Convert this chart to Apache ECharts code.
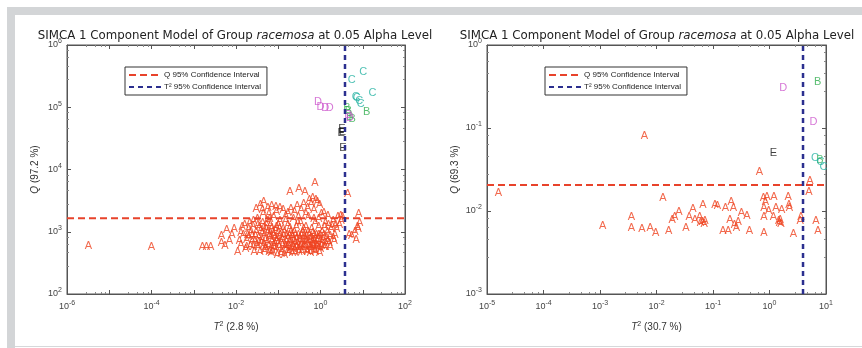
<!DOCTYPE html>
<html>
<head>
<meta charset="utf-8">
<script src="https://cdn.jsdelivr.net/npm/echarts@6/dist/echarts.min.js"></script>
<style>
  html, body { margin: 0; padding: 0; background: #fff; }
  #main { width: 862px; height: 348px; }
</style>
</head>
<body>
<div id="main"></div>
<script>
// left panel: Q (97.2 %) vs T2 (2.8 %)
var leftA = [
  [3.2e-6, 600], [1e-4, 570], [0.0016, 560], [0.002, 580], [0.0025, 570], [0.0045, 660], [0.0055, 590],
  [0.0045, 870], [0.006, 1050], [0.008, 880], [0.009, 1100], [0.007, 720],
  [0.011, 480], [0.013, 620], [0.014, 1200], [0.015, 900], [0.017, 520], [0.018, 750], [0.02, 1100],
  [0.021, 1400], [0.022, 600], [0.024, 850], [0.025, 1250], [0.027, 480], [0.028, 700], [0.03, 1000],
  [0.03, 2300], [0.032, 1600], [0.034, 560], [0.035, 820], [0.036, 1200], [0.038, 2700], [0.04, 650],
  [0.042, 950], [0.044, 1900], [0.045, 3000], [0.047, 500], [0.05, 750], [0.052, 1100], [0.055, 1500],
  [0.057, 2400], [0.06, 600], [0.062, 870], [0.065, 1300], [0.068, 450], [0.07, 2600], [0.072, 700],
  [0.075, 1000], [0.078, 1700], [0.08, 550], [0.085, 820], [0.088, 2500], [0.09, 1200], [0.095, 430],
  [0.1, 650], [0.1, 950], [0.11, 1500], [0.11, 2400], [0.12, 500], [0.125, 760], [0.13, 1100],
  [0.14, 420], [0.15, 600], [0.15, 1800], [0.16, 900], [0.17, 1300], [0.18, 480], [0.19, 700],
  [0.19, 4400], [0.2, 2300], [0.2, 1000], [0.21, 550], [0.22, 820], [0.23, 1600], [0.25, 450],
  [0.26, 650], [0.27, 1200], [0.28, 2600], [0.3, 520], [0.3, 900], [0.31, 4800], [0.33, 700],
  [0.34, 1400], [0.36, 480], [0.38, 1000], [0.4, 2800], [0.4, 600], [0.42, 800], [0.43, 4400],
  [0.45, 1200], [0.48, 500], [0.5, 680], [0.52, 1700], [0.55, 3200], [0.55, 900], [0.58, 450],
  [0.6, 600], [0.62, 1100], [0.65, 3500], [0.68, 750], [0.7, 2200], [0.72, 500], [0.74, 6100],
  [0.75, 1400], [0.78, 3300], [0.8, 880], [0.85, 600], [0.9, 1200], [0.95, 450], [1.0, 700],
  [1.05, 1900], [1.1, 1000], [1.2, 560], [1.3, 1400], [1.4, 800], [1.5, 1800], [1.6, 650],
  [1.8, 1100], [2.0, 1500], [2.2, 900], [2.6, 1700], [3.0, 1800], [3.3, 1700],
  [4.4, 4000], [4.8, 900], [5.5, 850], [6.5, 1000], [7.0, 750], [7.5, 1200], [8.0, 1900],
  [8.5, 1400], [7.8, 1100],
  [0.012, 700], [0.013, 950], [0.016, 1300], [0.018, 560], [0.019, 900], [0.023, 1000], [0.026, 560],
  [0.026, 1500], [0.029, 850], [0.031, 620], [0.033, 1300], [0.037, 480], [0.039, 1050], [0.041, 760],
  [0.043, 1400], [0.046, 620], [0.048, 900], [0.051, 520], [0.053, 1300], [0.056, 680], [0.058, 1000],
  [0.061, 470], [0.063, 1600], [0.066, 780], [0.069, 560], [0.071, 1150], [0.074, 480], [0.077, 880],
  [0.082, 650], [0.086, 1050], [0.092, 520], [0.097, 800], [0.105, 560], [0.108, 1150], [0.115, 700],
  [0.118, 440], [0.135, 850], [0.145, 560], [0.155, 700], [0.165, 480], [0.175, 620], [0.185, 900],
  [0.195, 520], [0.205, 680], [0.215, 460], [0.225, 600], [0.235, 720], [0.245, 520], [0.255, 880],
  [0.265, 560], [0.29, 640], [0.31, 480], [0.32, 780], [0.35, 600], [0.37, 700], [0.39, 520],
  [0.41, 900], [0.44, 560], [0.46, 720], [0.5, 480], [0.53, 600], [0.56, 760], [0.6, 520], [0.64, 680],
  [0.66, 950], [0.7, 580], [0.73, 720], [0.76, 480], [0.82, 620], [0.88, 780], [0.92, 540], [0.98, 900],
  [1.05, 600], [1.15, 760], [1.25, 1200], [1.35, 650], [1.45, 1000], [1.55, 1300], [1.7, 850],
  [1.9, 1250], [2.1, 700], [2.4, 1100], [2.8, 1300], [3.1, 1500],
  [0.09, 2100], [0.13, 2200], [0.17, 2000], [0.24, 2100], [0.35, 2200], [0.5, 2400], [0.6, 2800],
  [0.85, 3000], [0.95, 2700], [1.2, 2000], [0.042, 2200], [0.06, 1900], [0.15, 1500], [0.3, 1700],
  [0.45, 1900], [0.7, 1600], [0.9, 1600],
  [0.035, 680], [0.045, 1150], [0.05, 580], [0.064, 950], [0.079, 620], [0.093, 740], [0.1, 1300],
  [0.112, 900], [0.128, 620], [0.14, 1000], [0.16, 560], [0.17, 780], [0.19, 1150], [0.21, 880],
  [0.24, 1000], [0.27, 760], [0.29, 1400], [0.33, 560], [0.36, 880], [0.4, 1100], [0.43, 650],
  [0.47, 850], [0.51, 1000], [0.57, 560], [0.61, 800], [0.67, 620], [0.71, 880], [0.78, 560],
  [0.84, 720], [0.9, 900], [1.0, 520], [1.1, 680], [1.2, 880], [1.3, 580], [1.5, 720], [1.7, 580],
  [2.0, 800], [2.3, 1300], [0.024, 720], [0.02, 820]
];
var leftB = [[12.3, 85000], [4.2, 98000], [4.6, 88000], [5.0, 70000], [5.6, 64000]];
var leftC = [[10.3, 372000], [5.5, 276000], [17, 170000], [7.2, 140000], [8.2, 125000], [9.0, 112000], [6.8, 145000]];
var leftD = [[0.87, 123000], [1.0, 100000], [1.3, 98000], [1.66, 97000], [4.5, 74000], [5.0, 68000]];
var leftE = [[3.2, 45000], [3.3, 40000], [3.1, 38000], [3.4, 22000]];
var leftQLim = 1650;
var leftT2Lim = 3.8;
var leftXRange = [1e-6, 100];
var leftYRange = [100, 1e6];

// right panel: Q (69.3 %) vs T2 (30.7 %)
var rightA = [
  [1.6e-5, 0.0166], [0.0061, 0.081], [0.00112, 0.0066], [0.0036, 0.0085], [0.0036, 0.0063],
  [0.0055, 0.0061], [0.0077, 0.0063], [0.0097, 0.0054], [0.013, 0.0142], [0.0165, 0.0058],
  [0.019, 0.0078], [0.021, 0.0085], [0.025, 0.0098], [0.033, 0.0063], [0.038, 0.0085],
  [0.044, 0.0105], [0.048, 0.0078], [0.058, 0.0085], [0.066, 0.0118], [0.06, 0.0071],
  [0.065, 0.0073], [0.07, 0.0069], [0.072, 0.0076], [0.108, 0.0118], [0.12, 0.0115], [0.15, 0.0058],
  [0.166, 0.011], [0.186, 0.0058], [0.2, 0.0078], [0.21, 0.0129], [0.23, 0.011], [0.24, 0.0068],
  [0.26, 0.0062], [0.28, 0.0074], [0.32, 0.0094], [0.4, 0.0087], [0.44, 0.0058], [0.66, 0.0298],
  [0.78, 0.0142], [0.8, 0.011], [0.8, 0.0085], [0.8, 0.0054], [0.85, 0.0129], [0.9, 0.0146],
  [0.97, 0.01], [1.17, 0.0085], [1.2, 0.0146], [1.3, 0.011], [1.45, 0.0076], [1.5, 0.0071],
  [1.55, 0.0078], [1.6, 0.0069], [1.65, 0.0103], [2.15, 0.0146], [2.2, 0.0118], [2.25, 0.011],
  [2.65, 0.0053], [3.6, 0.0085], [3.5, 0.0075], [5.2, 0.0232], [5.0, 0.017], [6.6, 0.0075],
  [7.2, 0.0058]
];
var rightB = [[7.1, 0.36], [7.8, 0.041]];
var rightC = [[6.4, 0.043], [8.0, 0.039], [9.0, 0.034]];
var rightD = [[1.75, 0.30], [6.0, 0.119]];
var rightE = [[1.17, 0.0496]];
var rightQLim = 0.0206;
var rightT2Lim = 3.92;
var rightXRange = [1e-5, 10];
var rightYRange = [1e-3, 1];

var titleText = 'SIMCA 1 Component Model of Group {i|racemosa} at 0.05 Alpha Level';
var qName = 'Q 95% Confidence Interval';
var tName = 'T\u00b2 95% Confidence Interval';

var colA = '#ef4420', colB = '#2fae4e', colC = '#26b3a2', colD = '#cc55cc', colE = '#111111';
var colQ = '#e8432b', colT = '#2b2f8f';

var chart = echarts.init(document.getElementById('main'));

function powLabel(everyOther) {
  return function (v) {
    var e = Math.round(Math.log10(v));
    if (everyOther && e % 2 !== 0) return '';
    return '10{sup|' + e + '}';
  };
}

var labelRich = {
  sup: { fontSize: 7, verticalAlign: 'top', padding: [0, 0, 7, 0], color: '#444', fontFamily: 'Liberation Sans' }
};

function bottomAxis(grid, range, everyOther, name) {
  return {
    type: 'log', logBase: 10, gridIndex: grid, min: range[0], max: range[1],
    position: 'bottom',
    name: name, nameLocation: 'middle', nameGap: 27,
    nameTextStyle: { color: '#333', fontSize: 10, fontFamily: 'Liberation Sans',
      rich: { i: { fontStyle: 'italic', fontSize: 10, color: '#333' }, s: { fontSize: 7, verticalAlign: 'top', padding: [0, 0, 6, 0], color: '#333' } } },
    axisLine: { show: true, lineStyle: { color: '#555', width: 1 } },
    axisTick: { show: true, inside: true, length: 4, lineStyle: { color: '#555' } },
    minorTick: { show: true, splitNumber: 5, length: 2, lineStyle: { color: '#888' } },
    splitLine: { show: false },
    axisLabel: { formatter: powLabel(everyOther), color: '#444', fontSize: 9, fontFamily: 'Liberation Sans', margin: 6, rich: labelRich }
  };
}
function topAxis(grid, range) {
  return {
    type: 'log', logBase: 10, gridIndex: grid, min: range[0], max: range[1], position: 'top',
    axisLine: { show: true, lineStyle: { color: '#555' } },
    axisTick: { show: true, inside: true, length: 4, lineStyle: { color: '#555' } },
    minorTick: { show: true, splitNumber: 5, length: 2, lineStyle: { color: '#888' } },
    splitLine: { show: false }, axisLabel: { show: false }
  };
}
function leftAxis(grid, range, name) {
  return {
    type: 'log', logBase: 10, gridIndex: grid, min: range[0], max: range[1], position: 'left',
    name: name, nameLocation: 'middle', nameGap: 27, nameRotate: 90,
    nameTextStyle: { color: '#333', fontSize: 10, fontFamily: 'Liberation Sans',
      rich: { i: { fontStyle: 'italic', fontSize: 10, color: '#333' } } },
    axisLine: { show: true, lineStyle: { color: '#555' } },
    axisTick: { show: true, inside: true, length: 4, lineStyle: { color: '#555' } },
    minorTick: { show: true, splitNumber: 5, length: 2, lineStyle: { color: '#888' } },
    splitLine: { show: false },
    axisLabel: { formatter: powLabel(false), color: '#444', fontSize: 9, fontFamily: 'Liberation Sans', margin: 5, rich: labelRich }
  };
}
function rightAxis(grid, range) {
  return {
    type: 'log', logBase: 10, gridIndex: grid, min: range[0], max: range[1], position: 'right',
    axisLine: { show: true, lineStyle: { color: '#555' } },
    axisTick: { show: true, inside: true, length: 4, lineStyle: { color: '#555' } },
    minorTick: { show: true, splitNumber: 5, length: 2, lineStyle: { color: '#888' } },
    splitLine: { show: false }, axisLabel: { show: false }
  };
}

function letters(data, letter, color, xi, yi) {
  return {
    type: 'scatter', xAxisIndex: xi, yAxisIndex: yi, data: data,
    symbol: 'circle', symbolSize: 1, itemStyle: { color: 'rgba(0,0,0,0)' },
    silent: true, z: 3,
    label: { show: true, position: 'inside', formatter: letter, color: color,
      fontSize: 11, fontFamily: 'Liberation Sans' }
  };
}
function limitLine(name, data, color, dash, width, xi, yi) {
  return {
    type: 'line', name: name, xAxisIndex: xi, yAxisIndex: yi, data: data,
    symbol: 'none', silent: true, z: 4,
    lineStyle: { color: color, type: dash, width: width },
    itemStyle: { color: 'rgba(0,0,0,0)', borderWidth: 0 }
  };
}

function legendAt(left) {
  return {
    data: [qName, tName], orient: 'vertical', left: left, top: 67,
    itemWidth: 32, itemHeight: 8, itemGap: 4,
    padding: [4, 6, 4, 3],
    borderColor: '#333', borderWidth: 1, backgroundColor: '#fff',
    itemStyle: { color: 'rgba(0,0,0,0)', borderWidth: 0, opacity: 0 },
    textStyle: { fontSize: 8, fontFamily: 'Liberation Sans', color: '#222', padding: [0, 0, 0, -2] },
    selectedMode: false
  };
}

var option = {
  animation: false,
  backgroundColor: '#fff',
  grid: [
    { left: 67, top: 45, width: 338, height: 249, show: true, borderColor: '#555', borderWidth: 1 },
    { left: 487, top: 45, width: 339, height: 249, show: true, borderColor: '#555', borderWidth: 1 }
  ],
  xAxis: [
    bottomAxis(0, leftXRange, true, '{i|T}{s|2} (2.8 %)'),
    bottomAxis(1, rightXRange, false, '{i|T}{s|2} (30.7 %)'),
    topAxis(0, leftXRange),
    topAxis(1, rightXRange)
  ],
  yAxis: [
    leftAxis(0, leftYRange, '{i|Q} (97.2 %)'),
    leftAxis(1, rightYRange, '{i|Q} (69.3 %)'),
    rightAxis(0, leftYRange),
    rightAxis(1, rightYRange)
  ],
  legend: [legendAt(125), legendAt(545)],
  graphic: [
    { type: 'rect', shape: { x: 7, y: 7, width: 855, height: 8 }, style: { fill: '#d3d5d7' }, silent: true },
    { type: 'rect', shape: { x: 7, y: 7, width: 8, height: 341 }, style: { fill: '#d3d5d7' }, silent: true },
    { type: 'rect', shape: { x: 15, y: 346, width: 847, height: 1 }, style: { fill: '#d6d8da' }, silent: true },
    { type: 'text', x: 235, y: 36, silent: true,
      style: { text: titleText, align: 'center', verticalAlign: 'middle', fill: '#222',
        fontSize: 11.8, fontFamily: 'DejaVu Sans',
        rich: { i: { fontStyle: 'italic', fontSize: 11.8, fontFamily: 'DejaVu Sans', fill: '#222' } } } },
    { type: 'text', x: 657, y: 36, silent: true,
      style: { text: titleText, align: 'center', verticalAlign: 'middle', fill: '#222',
        fontSize: 11.8, fontFamily: 'DejaVu Sans',
        rich: { i: { fontStyle: 'italic', fontSize: 11.8, fontFamily: 'DejaVu Sans', fill: '#222' } } } }
  ],
  series: [
    letters(leftA, 'A', colA, 0, 0),
    letters(leftB, 'B', colB, 0, 0),
    letters(leftC, 'C', colC, 0, 0),
    letters(leftD, 'D', colD, 0, 0),
    letters(leftE, 'E', colE, 0, 0),
    limitLine(qName, [[leftXRange[0], leftQLim], [leftXRange[1], leftQLim]], colQ, [7, 4], 2, 0, 0),
    limitLine(tName, [[leftT2Lim, leftYRange[0]], [leftT2Lim, leftYRange[1]]], colT, [5, 4], 2.5, 0, 0),
    letters(rightA, 'A', colA, 1, 1),
    letters(rightB, 'B', colB, 1, 1),
    letters(rightC, 'C', colC, 1, 1),
    letters(rightD, 'D', colD, 1, 1),
    letters(rightE, 'E', colE, 1, 1),
    limitLine(qName, [[rightXRange[0], rightQLim], [rightXRange[1], rightQLim]], colQ, [7, 4], 2, 1, 1),
    limitLine(tName, [[rightT2Lim, rightYRange[0]], [rightT2Lim, rightYRange[1]]], colT, [5, 4], 2.5, 1, 1)
  ]
};

chart.setOption(option);
</script>
</body>
</html>
